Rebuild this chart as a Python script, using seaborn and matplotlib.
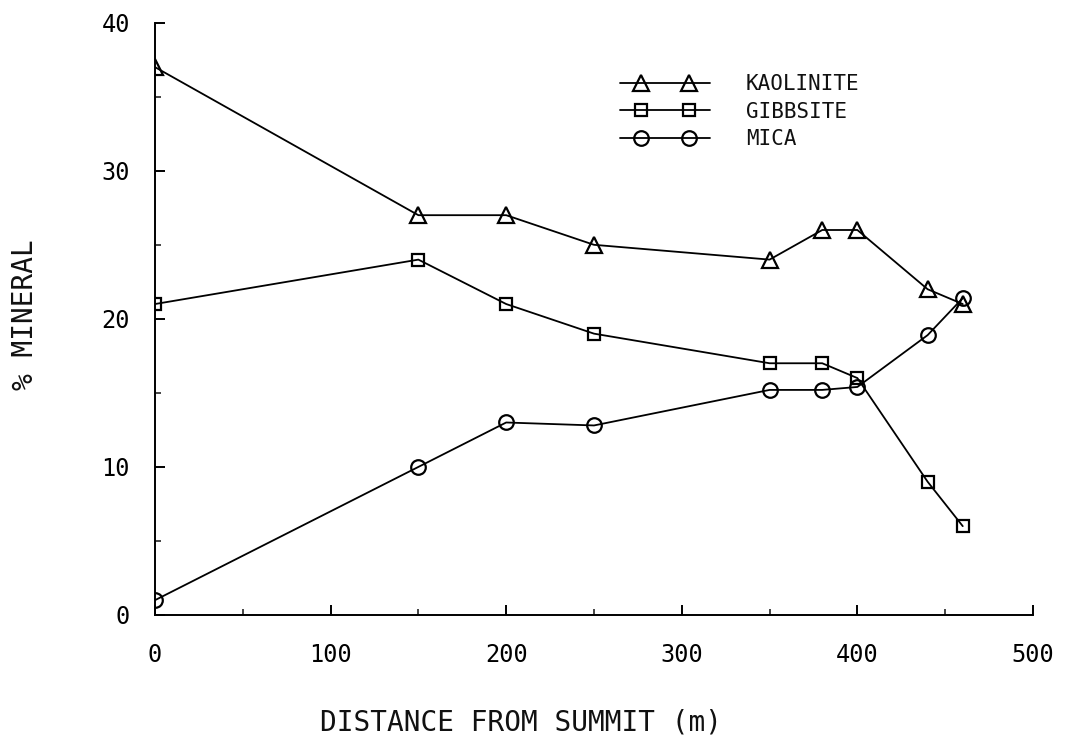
import matplotlib
matplotlib.use("Agg")
import matplotlib.pyplot as plt
from matplotlib.lines import Line2D
from matplotlib.legend_handler import HandlerLine2D, HandlerTuple
from matplotlib.ticker import MultipleLocator
import pandas as pd
import seaborn as sns

# Clay mineral content along a hillslope transect
distance = [0, 150, 200, 250, 350, 380, 400, 440, 460]
kaolinite = [37.0, 27.0, 27.0, 25.0, 24.0, 26.0, 26.0, 22.0, 21.0]
gibbsite = [21.0, 24.0, 21.0, 19.0, 17.0, 17.0, 16.0, 9.0, 6.0]
mica = [1.0, 10.0, 13.0, 12.8, 15.2, 15.2, 15.4, 18.9, 21.4]

series_names = ["KAOLINITE", "GIBBSITE", "MICA"]
series_values = [kaolinite, gibbsite, mica]
series_markers = ["^", "s", "o"]
marker_sizes = [11, 9, 10.5]

x_ticks = [0, 100, 200, 300, 400, 500]
y_ticks = [0, 10, 20, 30, 40]

sns.set_theme(style="ticks")
plt.rcParams["font.family"] = ["DejaVu Sans Mono", "DejaVu Sans"]

fig = plt.figure(figsize=(10.71, 7.44), dpi=100)
ax = fig.add_axes([0.1447, 0.1734, 0.8198, 0.7961])

for name, vals, mk, ms in zip(series_names, series_values, series_markers, marker_sizes):
    df = pd.DataFrame({"distance": distance, "percent": vals})
    sns.lineplot(data=df, x="distance", y="percent", ax=ax, color="black",
                 linewidth=1.3, marker=mk, markersize=ms, markerfacecolor="none",
                 markeredgecolor="black", markeredgewidth=1.6, legend=False)

ax.set_xlim(0, 500)
ax.set_ylim(0, 40)
ax.set_xticks(x_ticks)
ax.set_yticks(y_ticks)
ax.set_xticklabels([str(v) for v in x_ticks])
ax.set_yticklabels([str(v) for v in y_ticks])
ax.xaxis.set_minor_locator(MultipleLocator(50))
ax.yaxis.set_minor_locator(MultipleLocator(5))

ax.tick_params(axis="both", which="major", direction="in", length=7, width=1.4,
               labelsize=17, colors="black")
ax.tick_params(axis="both", which="minor", direction="in", length=4, width=1.2)
ax.tick_params(axis="x", which="major", pad=20)
ax.tick_params(axis="y", which="major", pad=18)

for side in ("top", "right"):
    ax.spines[side].set_visible(False)
for side in ("left", "bottom"):
    ax.spines[side].set_linewidth(1.4)
    ax.spines[side].set_color("black")

ax.set_xlabel("")
ax.set_ylabel("")
fig.text(521 / 1071, 1 - 722 / 744, "DISTANCE FROM SUMMIT (m)", ha="center",
         va="center", fontsize=20, color="#111111")
fig.text(25 / 1071, 1 - 315 / 744, "% MINERAL", ha="center", va="center",
         rotation=90, fontsize=20, color="#111111")

# Legend keys: a plain line running the full key width, with two open markers
# set in from its ends.
handles = []
handler_map = {}
for mk, ms in zip(series_markers, marker_sizes):
    line_part = Line2D([], [], color="black", linewidth=1.3)
    mark_part = Line2D([], [], linestyle="none", marker=mk, markersize=ms,
                       markerfacecolor="none", markeredgecolor="black",
                       markeredgewidth=1.6)
    handler_map[line_part] = HandlerLine2D(numpoints=2, marker_pad=0)
    handler_map[mark_part] = HandlerLine2D(numpoints=2, marker_pad=1.0)
    handles.append((line_part, mark_part))
handler_map[tuple] = HandlerTuple(ndivide=1, pad=0)

leg = ax.legend(handles, series_names, loc="upper left",
                bbox_to_anchor=(0.5296, 0.913), numpoints=2, frameon=False,
                fontsize=15, handlelength=4.3, handletextpad=1.75,
                labelspacing=0.36, borderaxespad=0, borderpad=0,
                labelcolor="#111111", handler_map=handler_map)

fig.savefig("out.png", dpi=100, facecolor="white")
